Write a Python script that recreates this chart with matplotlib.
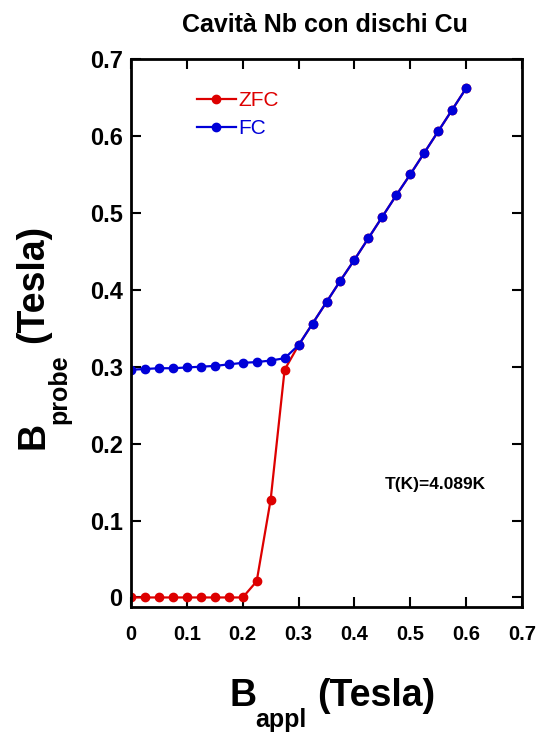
import matplotlib
matplotlib.use("Agg")
import matplotlib.pyplot as plt

plt.rcParams['font.family'] = ['Liberation Sans', 'DejaVu Sans']

# applied field (Tesla)
b_appl = [0.0, 0.025, 0.05, 0.075, 0.1, 0.125, 0.15, 0.175, 0.2, 0.225,
          0.25, 0.275, 0.3, 0.325, 0.35, 0.375, 0.4, 0.425, 0.45, 0.475,
          0.5, 0.525, 0.55, 0.575, 0.6]

# probe field, zero field cooled
zfc = [0.0, 0.0, 0.0, 0.0, 0.0, 0.0, 0.0, 0.0, 0.0, 0.021,
       0.127, 0.296, 0.328, 0.356, 0.384, 0.412, 0.439, 0.467, 0.495, 0.523,
       0.550, 0.578, 0.606, 0.634, 0.662]

# probe field, field cooled
fc = [0.296, 0.297, 0.298, 0.298, 0.299, 0.300, 0.301, 0.303, 0.305, 0.306,
      0.308, 0.311, 0.328, 0.356, 0.384, 0.412, 0.439, 0.467, 0.495, 0.523,
      0.550, 0.578, 0.606, 0.634, 0.662]

xticks = [0, 0.1, 0.2, 0.3, 0.4, 0.5, 0.6, 0.7]
xticklabels = ['0', '0.1', '0.2', '0.3', '0.4', '0.5', '0.6', '0.7']
yticks = [0, 0.1, 0.2, 0.3, 0.4, 0.5, 0.6, 0.7]
yticklabels = ['0', '0.1', '0.2', '0.3', '0.4', '0.5', '0.6', '0.7']

W, H = 538, 733
red = '#dd0000'
blue = '#0000d8'

fig = plt.figure(figsize=(W / 100, H / 100), dpi=100)
ax = fig.add_axes([131 / W, 1 - 607 / H, (522 - 131) / W, (607 - 59) / H])

ax.plot(b_appl, zfc, color=red, lw=1.6, marker='o', ms=6, label='ZFC')
ax.plot(b_appl, fc, color=blue, lw=1.6, marker='o', ms=6, label='FC')

ax.set_xlim(0, 0.7)
ax.set_ylim(-0.0124, 0.7)
ax.set_xticks(xticks)
ax.set_xticklabels(xticklabels, fontsize=14.5, fontweight='bold')
ax.set_yticks(yticks)
ax.set_yticklabels(yticklabels, fontsize=17, fontweight='bold')
ax.tick_params(axis='both', direction='in', length=7, width=1.5,
               top=True, right=True)
ax.tick_params(axis='x', pad=13)
ax.tick_params(axis='y', pad=6)
for s in ax.spines.values():
    s.set_linewidth(2)

ax.legend(loc='upper left', bbox_to_anchor=(197 / W, 1 - 91 / H),
          bbox_transform=fig.transFigure, frameon=False,
          prop={'size': 15}, labelcolor='linecolor',
          handlelength=1.85, handletextpad=0.15, labelspacing=0.45,
          borderpad=0, borderaxespad=0)

ax.text(0.545, 0.147, 'T(K)=4.089K', fontsize=12.5, fontweight='bold',
        ha='center', va='center')

# title
fig.text(325 / W, 1 - 32 / H, 'Cavità Nb con dischi Cu', fontsize=18,
         fontweight='bold', ha='center', va='baseline')

# x label, B with subscript
fig.text(229 / W, 1 - 706 / H, 'B', fontsize=27, fontweight='bold',
         ha='left', va='baseline')
fig.text(255 / W, 1 - 727 / H, 'appl', fontsize=18, fontweight='bold',
         ha='left', va='baseline')
fig.text(317 / W, 1 - 706 / H, '(Tesla)', fontsize=27, fontweight='bold',
         ha='left', va='baseline')

# y label, rotated
fig.text(43 / W, 1 - 449 / H, 'B', fontsize=27, fontweight='bold',
         ha='left', va='baseline', rotation=90, rotation_mode='anchor')
fig.text(66 / W, 1 - 424 / H, 'probe', fontsize=18, fontweight='bold',
         ha='left', va='baseline', rotation=90, rotation_mode='anchor')
fig.text(43 / W, 1 - 343 / H, '(Tesla)', fontsize=27, fontweight='bold',
         ha='left', va='baseline', rotation=90, rotation_mode='anchor')

fig.savefig('out.png', dpi=100)
